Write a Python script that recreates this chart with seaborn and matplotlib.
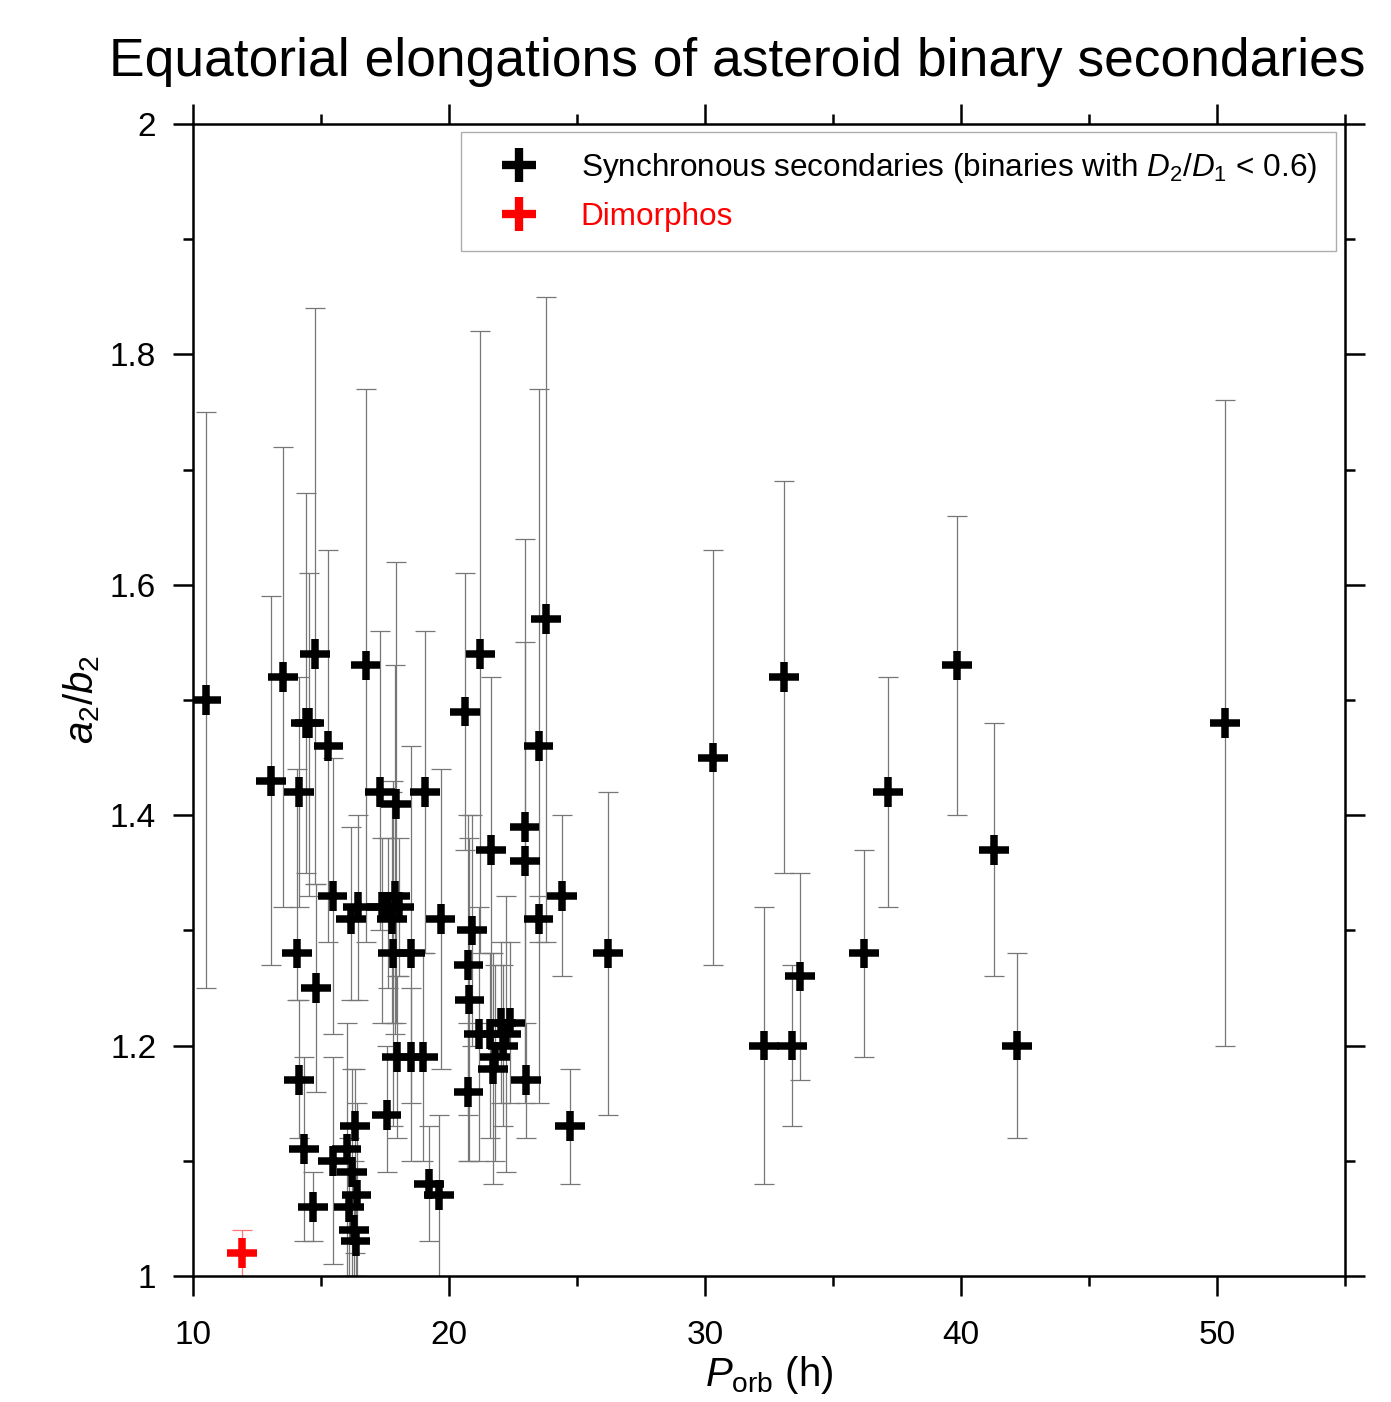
import seaborn as sns
import matplotlib.pyplot as plt
import matplotlib.ticker as mticker
from matplotlib.lines import Line2D
import numpy as np
import pandas as pd

# orbital period (h), a2/b2, lower and upper bound of the error bar
p_orb = [10.5, 13.05, 13.53, 14.15, 14.05, 14.15, 14.35, 14.4, 14.55, 14.77,
         14.7, 14.8, 15.29, 15.45, 15.48, 16.0, 16.17, 16.1, 16.2, 16.33,
         16.39, 16.3, 16.35, 16.45, 16.74, 17.3, 17.37, 17.56, 17.6, 17.76,
         17.8, 17.93, 17.9, 18.05, 17.95, 18.5, 18.5, 18.97, 19.07, 19.23,
         19.62, 19.67, 20.62, 20.76, 20.8, 20.76, 20.91, 21.17, 21.23, 21.64,
         21.6, 21.73, 21.8, 22.05, 22.12, 22.24, 22.38, 22.95, 22.97, 23.02,
         23.5, 23.5, 23.78, 24.4, 24.73, 26.2, 30.3, 32.3, 33.1, 33.4,
         33.7, 36.2, 37.15, 39.85, 41.3, 42.2, 50.3]
elong = [1.50, 1.43, 1.52, 1.42, 1.28, 1.17, 1.11, 1.48, 1.48, 1.54,
         1.06, 1.25, 1.46, 1.33, 1.10, 1.11, 1.31, 1.06, 1.09, 1.13,
         1.07, 1.04, 1.03, 1.32, 1.53, 1.42, 1.32, 1.14, 1.32, 1.31,
         1.28, 1.41, 1.33, 1.32, 1.19, 1.28, 1.19, 1.19, 1.42, 1.08,
         1.07, 1.31, 1.49, 1.27, 1.24, 1.16, 1.30, 1.21, 1.54, 1.37,
         1.21, 1.18, 1.19, 1.22, 1.20, 1.21, 1.22, 1.39, 1.36, 1.17,
         1.31, 1.46, 1.57, 1.33, 1.13, 1.28, 1.45, 1.20, 1.52, 1.20,
         1.26, 1.28, 1.42, 1.53, 1.37, 1.20, 1.48]
elong_lo = [1.25, 1.27, 1.32, 1.32, 1.24, 1.12, 1.03, 1.35, 1.33, 1.34,
            1.03, 1.16, 1.29, 1.21, 1.01, 1.00, 1.24, 1.00, 1.00, 1.02,
            1.00, 1.00, 1.00, 1.24, 1.29, 1.30, 1.22, 1.09, 1.25, 1.22,
            1.13, 1.22, 1.21, 1.26, 1.12, 1.15, 1.10, 1.10, 1.28, 1.03,
            1.00, 1.18, 1.37, 1.14, 1.10, 1.10, 1.20, 1.10, 1.28, 1.22,
            1.12, 1.08, 1.10, 1.15, 1.13, 1.09, 1.15, 1.15, 1.17, 1.12,
            1.29, 1.15, 1.29, 1.26, 1.08, 1.14, 1.27, 1.08, 1.35, 1.13,
            1.17, 1.19, 1.32, 1.40, 1.26, 1.12, 1.20]
elong_hi = [1.75, 1.59, 1.72, 1.52, 1.44, 1.24, 1.19, 1.68, 1.61, 1.84,
            1.09, 1.34, 1.63, 1.45, 1.19, 1.22, 1.39, 1.12, 1.18, 1.18,
            1.15, 1.10, 1.09, 1.40, 1.77, 1.56, 1.38, 1.20, 1.38, 1.42,
            1.43, 1.62, 1.53, 1.38, 1.26, 1.46, 1.25, 1.28, 1.56, 1.13,
            1.14, 1.44, 1.61, 1.40, 1.38, 1.22, 1.40, 1.32, 1.82, 1.52,
            1.28, 1.28, 1.27, 1.29, 1.27, 1.33, 1.29, 1.64, 1.55, 1.22,
            1.33, 1.77, 1.85, 1.40, 1.18, 1.42, 1.63, 1.32, 1.69, 1.27,
            1.35, 1.37, 1.52, 1.66, 1.48, 1.28, 1.76]

# Dimorphos
dim_p = [11.92]
dim_e = [1.02]
dim_lo = [1.00]
dim_hi = [1.04]

lbl_sync = r"Synchronous secondaries (binaries with $D_2/D_1$ < 0.6)"
lbl_dim = "Dimorphos"

df = pd.DataFrame({"P": p_orb + dim_p, "e": elong + dim_e,
                   "lo": elong_lo + dim_lo, "hi": elong_hi + dim_hi,
                   "grp": [lbl_sync] * len(p_orb) + [lbl_dim] * len(dim_p)})

sns.set_style("ticks")
plt.rcParams["font.family"] = ["Liberation Sans", "DejaVu Sans"]
plt.rcParams["mathtext.fontset"] = "custom"
plt.rcParams["mathtext.rm"] = "Liberation Sans"
plt.rcParams["mathtext.it"] = "Liberation Sans:italic"
for k in ["text.color", "axes.labelcolor", "xtick.color", "ytick.color",
          "axes.edgecolor"]:
    plt.rcParams[k] = "black"

fig = plt.figure(figsize=(13.91, 14.02), dpi=100)
ax = fig.add_axes([193 / 1391, 1 - 1276 / 1402, 1152 / 1391, 1152 / 1402])

colors = {lbl_sync: "black", lbl_dim: "red"}
ecolors = {lbl_sync: "#777777", lbl_dim: "#ff7777"}
for g, sub in df.groupby("grp"):
    yerr = np.vstack([sub["e"] - sub["lo"], sub["hi"] - sub["e"]])
    ax.errorbar(sub["P"], sub["e"], yerr=yerr, fmt="none", ecolor=ecolors[g],
                elinewidth=0.9, capsize=7, capthick=0.9, zorder=2)

sns.scatterplot(data=df, x="P", y="e", hue="grp", palette=colors, marker="+",
                s=460, linewidth=5.4, legend=False, ax=ax, zorder=3)

ax.set_xlim(10, 55)
ax.set_ylim(1, 2)
ax.xaxis.set_major_locator(mticker.MultipleLocator(10))
ax.xaxis.set_minor_locator(mticker.MultipleLocator(5))
ax.yaxis.set_major_locator(mticker.MultipleLocator(0.2))
ax.yaxis.set_minor_locator(mticker.MultipleLocator(0.1))
ax.yaxis.set_major_formatter(mticker.FuncFormatter(lambda v, _: f"{v:g}"))
ax.tick_params(which="both", direction="out", width=1.8, top=True, right=True,
               labelsize=24, colors="black")
ax.tick_params(which="major", length=14.5)
ax.tick_params(which="minor", length=7.5)
ax.tick_params(axis="x", pad=17)
ax.tick_params(axis="y", pad=12)
for s in ax.spines.values():
    s.set_linewidth(1.8)
    s.set_visible(True)
    s.set_color("black")

ax.set_xlabel(r"$P_{\mathrm{orb}}$ (h)", fontsize=29, labelpad=2)
ax.set_ylabel(r"$a_2/b_2$", fontsize=29, labelpad=6)
fig.text(737 / 1391, 1 - 62 / 1402,
         "Equatorial elongations of asteroid binary secondaries",
         fontsize=38.4, ha="center", va="center")

handles = [Line2D([], [], ls="none", marker="+", color="black", ms=24, mew=6),
           Line2D([], [], ls="none", marker="+", color="red", ms=24, mew=6)]
leg = ax.legend(handles, [lbl_sync, lbl_dim], loc="upper right",
                bbox_to_anchor=(0.992, 0.993), borderaxespad=0, fontsize=22.7,
                frameon=True, fancybox=False, edgecolor="#999999",
                labelcolor=["black", "red"], handlelength=2.5,
                handletextpad=0.7, borderpad=0.6, labelspacing=0.55)
leg.get_frame().set_linewidth(1.0)

fig.savefig("out.png", dpi=100)
